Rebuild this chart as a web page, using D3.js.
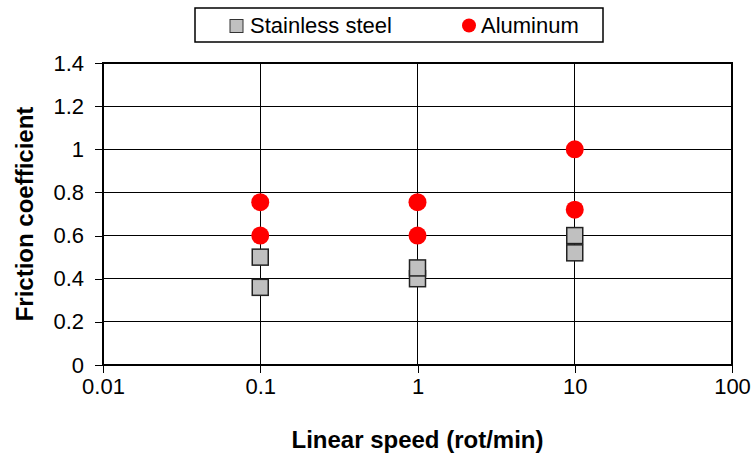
<!DOCTYPE html>
<html><head><meta charset="utf-8">
<script src="https://cdn.jsdelivr.net/npm/d3@7"></script>
<style>body{margin:0;background:#fff;}svg{display:block;font-family:"Liberation Sans",Arial,sans-serif;}</style>
</head><body><svg id="c" width="755" height="454"></svg>
<script>
const speeds = [0.1, 0.1, 1, 1, 10, 10];
const steelValues = [0.36, 0.50, 0.40, 0.45, 0.52, 0.60];
const aluminumValues = [0.60, 0.755, 0.60, 0.755, 0.72, 1.0];
const xTicks = [0.01, 0.1, 1, 10, 100];
const xTickLabels = ["0.01", "0.1", "1", "10", "100"];
const yTicks = [0, 0.2, 0.4, 0.6, 0.8, 1, 1.2, 1.4];
const yTickLabels = ["0", "0.2", "0.4", "0.6", "0.8", "1", "1.2", "1.4"];
const seriesNames = ["Stainless steel", "Aluminum"];

const svg = d3.select("#c");
const L = 103, R = 732, T = 63, B = 365;
const x = d3.scaleLog().domain([0.01, 100]).range([L, R]);
const y = d3.scaleLinear().domain([0, 1.4]).range([B, T]);

// gridlines
svg.append("g").selectAll("line").data(yTicks).join("line")
  .attr("x1", L).attr("x2", R).attr("y1", d => y(d)).attr("y2", d => y(d))
  .attr("stroke", "#000").attr("stroke-width", 1).attr("shape-rendering", "crispEdges");
svg.append("g").selectAll("line").data(xTicks).join("line")
  .attr("x1", d => x(d)).attr("x2", d => x(d)).attr("y1", T).attr("y2", B)
  .attr("stroke", "#000").attr("stroke-width", 1).attr("shape-rendering", "crispEdges");

// axes
const xAxis = d3.axisBottom(x).tickValues(xTicks).tickFormat((d, i) => xTickLabels[i]).tickSize(8).tickSizeOuter(0).tickPadding(5);
const gx = svg.append("g").attr("transform", `translate(0,${B})`).call(xAxis);
const yAxis = d3.axisLeft(y).tickValues(yTicks).tickFormat((d, i) => yTickLabels[i]).tickSize(8).tickSizeOuter(0).tickPadding(11);
const gy = svg.append("g").attr("transform", `translate(${L},0)`).call(yAxis);
[gx, gy].forEach(g => {
  g.select(".domain").remove();
  g.selectAll(".tick line").attr("stroke", "#000").attr("shape-rendering", "crispEdges");
  g.selectAll(".tick text").attr("font-size", 22).attr("fill", "#000").attr("font-family", "Liberation Sans, Arial, sans-serif");
});

// plot border
svg.append("rect").attr("x", L).attr("y", T).attr("width", R - L).attr("height", B - T)
  .attr("fill", "none").attr("stroke", "#000").attr("stroke-width", 2);

// stainless steel squares
const s = 16;
svg.append("g").selectAll("rect").data(speeds.map((v, i) => [v, steelValues[i]])).join("rect")
  .attr("x", d => x(d[0]) - s / 2).attr("y", d => y(d[1]) - s / 2)
  .attr("width", s).attr("height", s)
  .attr("fill", "#c0c0c0").attr("stroke", "#222").attr("stroke-width", 1.5);

// aluminum circles
svg.append("g").selectAll("circle").data(speeds.map((v, i) => [v, aluminumValues[i]])).join("circle")
  .attr("cx", d => x(d[0])).attr("cy", d => y(d[1])).attr("r", 9)
  .attr("fill", "#ff0000");

// axis titles
svg.append("text").attr("x", (L + R) / 2).attr("y", 448).attr("text-anchor", "middle")
  .attr("font-size", 24).attr("font-weight", "bold").attr("fill", "#000").text("Linear speed (rot/min)");
svg.append("text").attr("transform", `translate(33,${(T + B) / 2}) rotate(-90)`).attr("text-anchor", "middle")
  .attr("font-size", 24).attr("font-weight", "bold").attr("fill", "#000").text("Friction coefficient");

// legend
const lg = svg.append("g");
lg.append("rect").attr("x", 195).attr("y", 8).attr("width", 408).attr("height", 34)
  .attr("fill", "#fff").attr("stroke", "#000").attr("stroke-width", 1.5);
lg.append("rect").attr("x", 230).attr("y", 19.5).attr("width", 13).attr("height", 13)
  .attr("fill", "#c0c0c0").attr("stroke", "#333").attr("stroke-width", 1);
lg.append("text").attr("x", 250).attr("y", 33).attr("font-size", 22).attr("fill", "#000").text(seriesNames[0]);
lg.append("circle").attr("cx", 469).attr("cy", 25.5).attr("r", 7).attr("fill", "#ff0000");
lg.append("text").attr("x", 481).attr("y", 33).attr("font-size", 22).attr("fill", "#000").text(seriesNames[1]);
</script></body></html>
